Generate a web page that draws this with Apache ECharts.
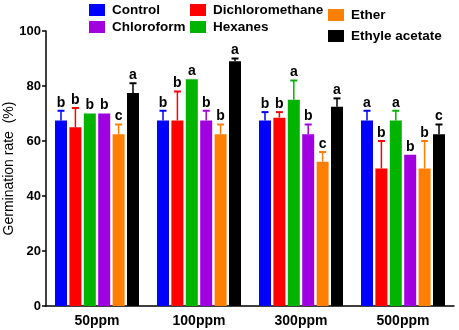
<!DOCTYPE html>
<html>
<head>
<meta charset="utf-8">
<script src="https://cdn.jsdelivr.net/npm/echarts@6/dist/echarts.min.js"></script>
<style>
  html, body { margin: 0; padding: 0; background: #fff; }
  #chart { width: 459px; height: 330px; }
</style>
</head>
<body>
<div id="chart"></div>
<script>
const categories = ['50ppm', '100ppm', '300ppm', '500ppm'];
const seriesNames = ['Control', 'Dichloromethane', 'Hexanes', 'Chloroform', 'Ether', 'Ethyle acetate'];
const colors = ['#0000ff', '#ff0000', '#00b400', '#a000e0', '#ff7f00', '#000000'];

// mean values
const control = [67.5, 67.5, 67.5, 67.5];
const dichloromethane = [65, 67.5, 68.5, 50];
const hexanes = [70, 82.5, 75, 67.5];
const chloroform = [70, 67.5, 62.5, 55];
const ether = [62.5, 62.5, 52.5, 50];
const ethyleAcetate = [77.5, 89, 72.5, 62.5];

// upper error (SD)
const controlErr = [3.5, 3.5, 3, 3.5];
const dichloromethaneErr = [7, 10.5, 2, 10];
const hexanesErr = [0, 0, 7, 3.5];
const chloroformErr = [0, 3.5, 3.5, 0];
const etherErr = [3.5, 3.5, 3.5, 10];
const ethyleAcetateErr = [3.5, 1, 3, 3.5];

// significance letters
const controlLetters = ['b', 'b', 'b', 'a'];
const dichloromethaneLetters = ['b', 'b', 'b', 'b'];
const hexanesLetters = ['b', 'a', 'a', 'a'];
const chloroformLetters = ['b', 'b', 'b', 'b'];
const etherLetters = ['c', 'b', 'c', 'b'];
const ethyleAcetateLetters = ['a', 'a', 'a', 'c'];

const yTicks = [0, 20, 40, 60, 80, 100];

const values = [control, dichloromethane, hexanes, chloroform, ether, ethyleAcetate];
const errors = [controlErr, dichloromethaneErr, hexanesErr, chloroformErr, etherErr, ethyleAcetateErr];
const letters = [controlLetters, dichloromethaneLetters, hexanesLetters, chloroformLetters, etherLetters, ethyleAcetateLetters];

const FONT = "'Liberation Sans', Arial, sans-serif";
const BAR_W = 12;
const BAR_GAP = 0.2;

var chart = echarts.init(document.getElementById('chart'));

// rows for the error bar / letter layer
var errRows = [];
for (var k = 0; k < values.length; k++) {
  for (var i = 0; i < categories.length; i++) {
    errRows.push([i, values[k][i], errors[k][i], letters[k][i], k]);
  }
}

function renderErr(params, api) {
  var cat = api.value(0);
  var val = api.value(1);
  var err = api.value(2);
  var k = api.value(4);
  var color = colors[k];
  var base = api.coord([cat, val]);
  var x = base[0] + (k - 2.5) * BAR_W * (1 + BAR_GAP);
  var topY = api.coord([cat, val + err])[1];
  var children = [];
  if (err > 0) {
    children.push({
      type: 'line',
      shape: { x1: x, y1: base[1], x2: x, y2: topY },
      style: { stroke: color, lineWidth: 1.5 }
    });
    children.push({
      type: 'line',
      shape: { x1: x - 3.5, y1: topY, x2: x + 3.5, y2: topY },
      style: { stroke: color, lineWidth: 2 }
    });
  }
  children.push({
    type: 'text',
    style: {
      x: x,
      y: topY - 1,
      text: api.value(3),
      align: 'center',
      verticalAlign: 'bottom',
      font: 'bold 14px ' + FONT,
      fill: '#000'
    }
  });
  return { type: 'group', children: children };
}

var series = [];
for (var s = 0; s < seriesNames.length; s++) {
  series.push({
    name: seriesNames[s],
    type: 'bar',
    data: values[s],
    barWidth: BAR_W,
    barGap: (BAR_GAP * 100) + '%',
    itemStyle: { color: colors[s] }
  });
}
series.push({
  type: 'custom',
  renderItem: renderErr,
  data: errRows,
  z: 5,
  silent: true
});

function legendAt(names, left, top, gap) {
  return {
    data: names,
    left: left,
    top: top,
    orient: 'vertical',
    icon: 'rect',
    itemWidth: 16,
    itemHeight: 12,
    itemGap: gap,
    padding: 0,
    selectedMode: false,
    textStyle: { fontFamily: FONT, fontWeight: 'bold', fontSize: 13.5, color: '#000', padding: [0, 0, 0, 2] }
  };
}

var option = {
  backgroundColor: '#fff',
  animation: false,
  legend: [
    legendAt(['Control', 'Chloroform'], 89, 3, 3),
    legendAt(['Dichloromethane', 'Hexanes'], 190, 3, 3),
    legendAt(['Ether', 'Ethyle acetate'], 328, 8, 7)
  ],
  grid: { left: 46, right: 5, top: 31, bottom: 24, outerBoundsMode: 'none', containLabel: false },
  xAxis: {
    type: 'category',
    data: categories,
    axisLine: { lineStyle: { color: '#000', width: 1.5 } },
    axisTick: { alignWithLabel: true, length: 4, lineStyle: { color: '#000', width: 1.5 } },
    axisLabel: { color: '#000', fontFamily: FONT, fontWeight: 'bold', fontSize: 14, margin: 8 }
  },
  yAxis: {
    type: 'value',
    min: yTicks[0],
    max: yTicks[yTicks.length - 1],
    interval: 20,
    name: 'Germination rate  (%)',
    nameLocation: 'middle',
    nameRotate: 90,
    nameGap: 30,
    nameMoveOverlap: false,
    nameTextStyle: { color: '#000', fontFamily: FONT, fontSize: 14 },
    splitLine: { show: false },
    axisLine: { show: true, lineStyle: { color: '#000', width: 1.5 } },
    axisTick: { show: true, length: 4, lineStyle: { color: '#000', width: 1.5 } },
    axisLabel: { color: '#000', fontFamily: FONT, fontWeight: 'bold', fontSize: 13, margin: 5 }
  },
  series: series
};

chart.setOption(option);
</script>
</body>
</html>
